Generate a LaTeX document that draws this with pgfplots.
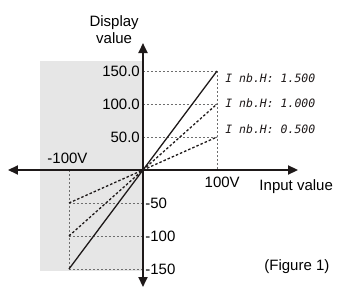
\documentclass[border=0pt]{standalone}
\usepackage{pgfplots}
\pgfplotsset{compat=1.18}
\usepackage{fontspec}
\setmainfont{Liberation Sans}
\newfontfamily\segfont{DejaVu Sans Mono}
\usetikzlibrary{arrows.meta}
\definecolor{bgfill}{RGB}{230,230,230}
\definecolor{guide}{RGB}{110,110,110}
\definecolor{ink}{RGB}{30,25,25}
\begin{document}
\begin{tikzpicture}
\begin{axis}[
  scale only axis, width=338pt, height=287pt,
  xmin=-193.2, xmax=263.5, ymin=-177.3, ymax=257.6,
  hide axis, clip=false,
]
\path (rel axis cs:0,0) rectangle (rel axis cs:1,1);
% shaded region
\fill[bgfill] (axis cs:-139.2,-153) rectangle (axis cs:0,165.2);
% guide lines
\draw[guide, line width=0.5pt, dash pattern=on 2pt off 2pt]
  (axis cs:0,150) -- (axis cs:100,150)
  (axis cs:0,100) -- (axis cs:100,100)
  (axis cs:0,50) -- (axis cs:100,50)
  (axis cs:100,150) -- (axis cs:100,0)
  (axis cs:-100,0) -- (axis cs:-100,-150)
  (axis cs:-100,-50) -- (axis cs:0,-50)
  (axis cs:-100,-100) -- (axis cs:0,-100)
  (axis cs:-100,-150) -- (axis cs:0,-150);
% data lines
\addplot[ink, line width=1.3pt, solid] coordinates {(-100,-150) (100,150)};
\addplot[ink, line width=1.3pt, dash pattern=on 2.5pt off 2pt] coordinates {(-100,-100) (100,100)};
\addplot[ink, line width=1.3pt, dash pattern=on 2.5pt off 2pt] coordinates {(-100,-50) (100,50)};
% axes
\draw[ink, line width=2pt, {Triangle[length=10pt,width=9pt]}-{Triangle[length=10pt,width=9pt]}]
  (axis cs:-182.4,0) -- (axis cs:209.5,0);
\draw[ink, line width=2pt, {Triangle[length=10pt,width=9pt]}-{Triangle[length=10pt,width=9pt]}]
  (axis cs:0,-177.3) -- (axis cs:0,192.4);
% labels
\begin{scope}[font=\fontsize{15}{17}\selectfont, text=black]
\node[anchor=east, inner sep=0pt] at (axis cs:-4,150) {150.0};
\node[anchor=east, inner sep=0pt] at (axis cs:-4,100) {100.0};
\node[anchor=east, inner sep=0pt] at (axis cs:-4,50) {50.0};
\node[anchor=west, inner sep=0pt] at (axis cs:3,-50) {-50};
\node[anchor=west, inner sep=0pt] at (axis cs:3,-100) {-100};
\node[anchor=west, inner sep=0pt] at (axis cs:3,-150) {-150};
\node[inner sep=0pt] at (axis cs:-102,18) {-100V};
\node[inner sep=0pt] at (axis cs:107,-18) {100V};
\node[inner sep=0pt] at (axis cs:207,-25) {Input value};
\node[inner sep=0pt, align=center] at (axis cs:-39,212) {Display\\value};
\node[inner sep=0pt] at (axis cs:208,-147) {(Figure 1)};
\end{scope}
\begin{scope}[font=\fontsize{11.5}{13}\segfont\itshape, text=ink]
\node[anchor=west, inner sep=0pt] at (axis cs:111,139) {I nb.H: 1.500};
\node[anchor=west, inner sep=0pt] at (axis cs:111,101) {I nb.H: 1.000};
\node[anchor=west, inner sep=0pt] at (axis cs:111,62) {I nb.H: 0.500};
\end{scope}
\end{axis}
\end{tikzpicture}
\end{document}
